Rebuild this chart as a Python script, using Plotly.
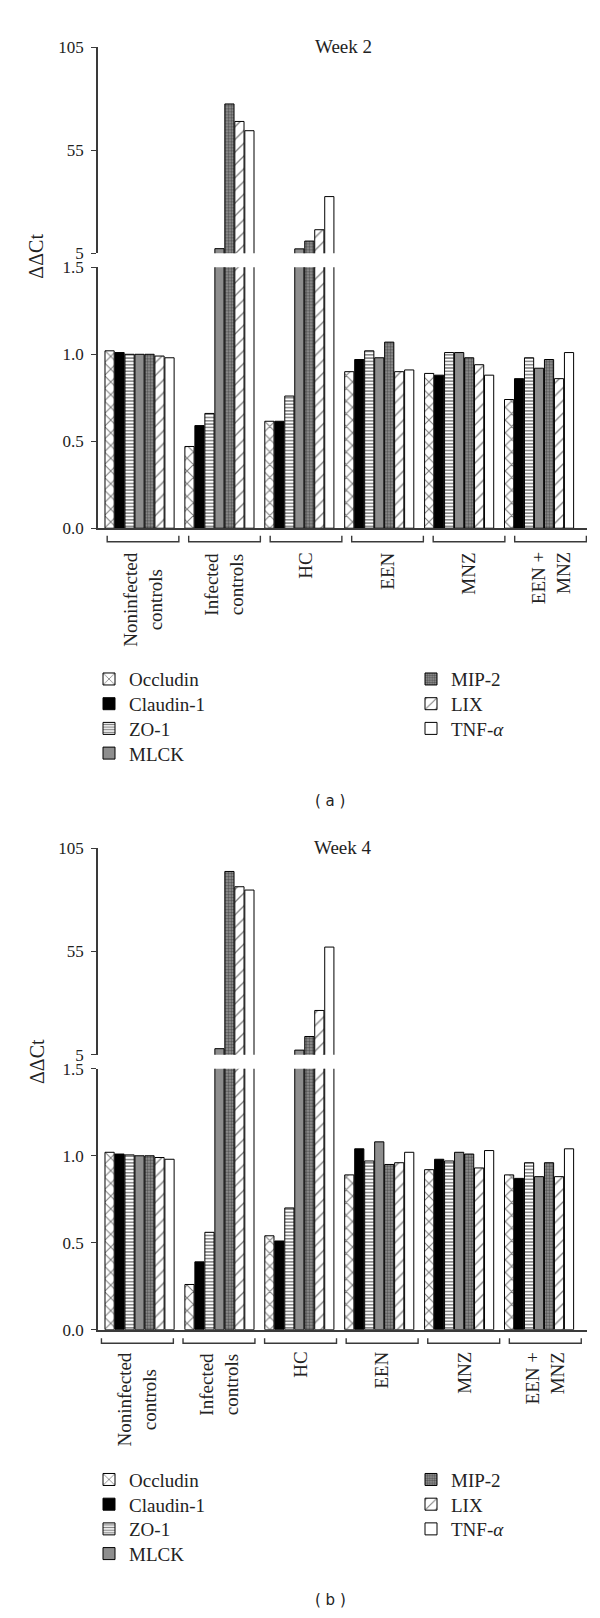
import plotly.graph_objects as go

# ---------------- data ----------------
groups = ["Noninfected<br>controls", "Infected<br>controls", "HC", "EEN", "MNZ", "EEN +<br>MNZ"]
series = ["Occludin", "Claudin-1", "ZO-1", "MLCK", "MIP-2", "LIX", "TNF-<i>α</i>"]

# Week 2 (ΔΔCt)
w2_occludin = [1.02, 0.47, 0.615, 0.90, 0.89, 0.74]
w2_claudin1 = [1.01, 0.59, 0.615, 0.97, 0.88, 0.86]
w2_zo1 = [1.00, 0.66, 0.76, 1.02, 1.01, 0.98]
w2_mlck = [1.00, 7.2, 7.1, 0.98, 1.01, 0.92]
w2_mip2 = [1.00, 77.5, 10.9, 1.07, 0.98, 0.97]
w2_lix = [0.99, 69.0, 16.4, 0.90, 0.94, 0.86]
w2_tnf = [0.98, 64.5, 32.5, 0.91, 0.88, 1.01]

# Week 4 (ΔΔCt)
w4_occludin = [1.02, 0.26, 0.54, 0.89, 0.92, 0.89]
w4_claudin1 = [1.01, 0.39, 0.51, 1.04, 0.98, 0.87]
w4_zo1 = [1.005, 0.56, 0.70, 0.97, 0.97, 0.96]
w4_mlck = [1.00, 7.9, 7.2, 1.08, 1.02, 0.88]
w4_mip2 = [1.00, 93.7, 13.8, 0.95, 1.01, 0.96]
w4_lix = [0.99, 86.3, 26.4, 0.96, 0.93, 0.88]
w4_tnf = [0.98, 84.7, 57.1, 1.02, 1.03, 1.04]

week2 = [w2_occludin, w2_claudin1, w2_zo1, w2_mlck, w2_mip2, w2_lix, w2_tnf]
week4 = [w4_occludin, w4_claudin1, w4_zo1, w4_mlck, w4_mip2, w4_lix, w4_tnf]

upper_ticks = [5, 55, 105]
lower_ticks = [0.0, 0.5, 1.0, 1.5]
titles = ["Week 2", "Week 4"]
panel_tags = ["( a )", "( b )"]

# ---------------- styling ----------------
W, H = 600, 1618
SERIF = "Liberation Serif, Times New Roman, serif"
INK = "#222222"
AX = "#3a3a3a"


def py(p):
    return 1 - p / H


def px(p):
    return p / W


def style(i):
    line = dict(color="black", width=1)
    if i == 0:
        return dict(color="white", line=line,
                    pattern=dict(shape="x", fgcolor="black", bgcolor="white", size=9, solidity=0.22))
    if i == 1:
        return dict(color="black", line=line)
    if i == 2:
        return dict(color="white", line=line,
                    pattern=dict(shape="-", fgcolor="black", bgcolor="white", size=3.3, solidity=0.45))
    if i == 3:
        return dict(color="#8e8e8e", line=line)
    if i == 4:
        return dict(color="#555555", line=line,
                    pattern=dict(shape=".", fgcolor="#111111", bgcolor="#9a9a9a", size=3, solidity=0.55))
    if i == 5:
        return dict(color="white", line=line,
                    pattern=dict(shape="/", fgcolor="black", bgcolor="white", size=9, solidity=0.15))
    return dict(color="white", line=line)


panels = [
    dict(data=week2, up=(30.7, 239.0), low=(253.3, 517.3), xl="x", yl="y", xu="x2", yu="y2",
         title_y=30, ytitle_y=242, brk=(525, 531), lab_y=540,
         br_off=(-0.405, 0.492, 1.020), leg_y0=670, tag_y=793),
    dict(data=week4, up=(841.0, 1050.0), low=(1064.3, 1328.3), xl="x3", yl="y3", xu="x4", yu="y4",
         title_y=840, ytitle_y=1057, brk=(1337, 1342), lab_y=1349,
         br_off=(-0.477, 0.423, 1.021), leg_y0=1480, tag_y=1602),
]

LEG_X = [81, 403]
LEG_PITCH = 25

xpos = list(range(len(groups)))
fig = go.Figure()

layout = dict(
    width=W, height=H, margin=dict(l=0, r=0, t=0, b=0),
    paper_bgcolor="white", plot_bgcolor="white",
    barmode="group", bargap=0.125, bargroupgap=0.08,
    font=dict(family=SERIF, size=18, color=INK),
    showlegend=True,
)

for k, p in enumerate(panels):
    for i, name in enumerate(series):
        vals = p["data"][i]
        idx = k * len(series) + i + 1
        leg = "legend" if idx == 1 else f"legend{idx}"
        col = 0 if i < 4 else 1
        row = i if i < 4 else i - 4
        layout[leg] = dict(x=px(LEG_X[col]), y=py(p["leg_y0"] + LEG_PITCH * row),
                           xanchor="left", yanchor="middle", bgcolor="rgba(0,0,0,0)",
                           font=dict(family=SERIF, size=19, color=INK), itemwidth=30)
        fig.add_trace(go.Bar(x=xpos, y=vals, name=name, marker=style(i),
                             xaxis=p["xl"], yaxis=p["yl"], legend=leg,
                             showlegend=True, hoverinfo="skip"))
        fig.add_trace(go.Bar(x=xpos, y=vals, name=name, marker=style(i),
                             xaxis=p["xu"], yaxis=p["yu"], showlegend=False,
                             hoverinfo="skip"))

XDOM = [px(90), px(579)]
XRANGE = [-0.52, 5.6]

annotations = []
shapes = []

for k, p in enumerate(panels):
    xl, yl, xu, yu = p["xl"], p["yl"], p["xu"], p["yu"]
    xl_key = "xaxis" + xl[1:]
    xu_key = "xaxis" + xu[1:]
    yl_key = "yaxis" + yl[1:]
    yu_key = "yaxis" + yu[1:]
    layout[xl_key] = dict(domain=XDOM, range=XRANGE, anchor=yl, showline=True, linecolor=AX,
                          linewidth=1.6, showticklabels=False, ticks="", showgrid=False,
                          zeroline=False, fixedrange=True)
    layout[xu_key] = dict(domain=XDOM, range=XRANGE, anchor=yu, visible=False, showgrid=False,
                          zeroline=False, fixedrange=True)
    layout[yl_key] = dict(domain=[py(p["low"][1]), py(p["low"][0])], range=[0, 1.5], anchor=xl,
                          tickvals=lower_ticks, tickformat=".1f", ticks="outside", ticklen=5,
                          tickwidth=1.4, tickcolor=AX, showline=True, linecolor=AX, linewidth=1.6,
                          showgrid=False, zeroline=False, ticklabelstandoff=4,
                          tickfont=dict(family=SERIF, size=17, color=INK))
    layout[yu_key] = dict(domain=[py(p["up"][1]), py(p["up"][0])], range=[5, 105], anchor=xu,
                          tickvals=upper_ticks, ticks="outside", ticklen=5,
                          tickwidth=1.4, tickcolor=AX, showline=True, linecolor=AX, linewidth=1.6,
                          showgrid=False, zeroline=False, ticklabelstandoff=4,
                          tickfont=dict(family=SERIF, size=17, color=INK))

    # title
    annotations.append(dict(text=titles[k], x=px(335), y=py(p["title_y"]), xref="paper",
                            yref="paper", showarrow=False, xanchor="center", yanchor="middle",
                            font=dict(family=SERIF, size=19, color=INK)))
    # y title
    annotations.append(dict(text="ΔΔCt", x=px(28.5), y=py(p["ytitle_y"]), xref="paper",
                            yref="paper", showarrow=False, textangle=-90, xanchor="center",
                            yanchor="middle", font=dict(family=SERIF, size=20, color=INK)))
    # panel tag
    annotations.append(dict(text=panel_tags[k], x=px(322), y=py(p["tag_y"]), xref="paper",
                            yref="paper", showarrow=False, xanchor="center", yanchor="middle",
                            font=dict(family="DejaVu Sans, sans-serif", size=15, color=INK)))

    # brackets + category labels
    b0, b1, pitch = p["br_off"]
    top, bot = p["brk"]
    for j, g in enumerate(groups):
        x0 = b0 + pitch * j
        x1 = b1 + pitch * j
        shapes.append(dict(type="path", xref=xl, yref="paper",
                           path=f"M {x0},{py(top)} L {x0},{py(bot)} L {x1},{py(bot)} L {x1},{py(top)}",
                           line=dict(color=AX, width=1.4)))
        align = "right" if j == len(groups) - 1 else "center"
        annotations.append(dict(text=g, x=(x0 + x1) / 2, xref=xl, y=py(p["lab_y"]), yref="paper",
                                showarrow=False, textangle=-90, xanchor="center", yanchor="top",
                                align=align, font=dict(family=SERIF, size=19, color=INK)))

layout["annotations"] = annotations
layout["shapes"] = shapes

fig.update_layout(**layout)
fig.write_html("out.html")
